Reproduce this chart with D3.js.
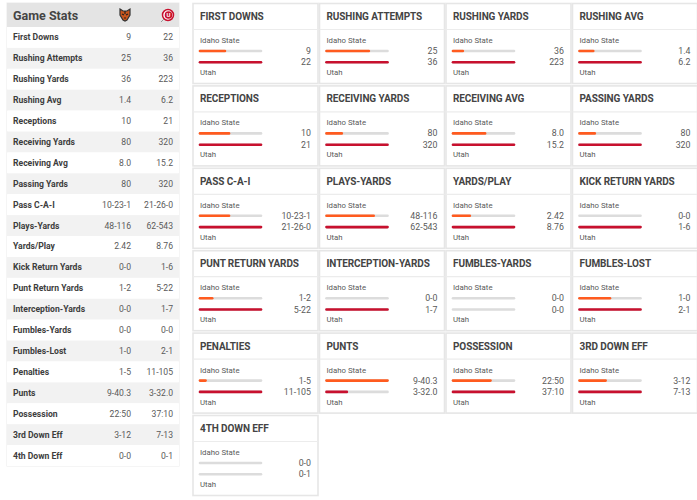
<!DOCTYPE html>
<html><head><meta charset="utf-8">
<script src="https://cdn.jsdelivr.net/npm/d3@7"></script>
<style>
html,body{margin:0;padding:0;background:#fff;}
svg{display:block;font-family:Roboto,"Open Sans",sans-serif;}
</style></head>
<body>
<svg id="chart" width="697" height="500"></svg>
<script>
const statNames = ["First Downs","Rushing Attempts","Rushing Yards","Rushing Avg","Receptions","Receiving Yards","Receiving Avg","Passing Yards","Pass C-A-I","Plays-Yards","Yards/Play","Kick Return Yards","Punt Return Yards","Interception-Yards","Fumbles-Yards","Fumbles-Lost","Penalties","Punts","Possession","3rd Down Eff","4th Down Eff"];
const awayLabels = ["9","25","36","1.4","10","80","8.0","80","10-23-1","48-116","2.42","0-0","1-2","0-0","0-0","1-0","1-5","9-40.3","22:50","3-12","0-0"];
const homeLabels = ["22","36","223","6.2","21","320","15.2","320","21-26-0","62-543","8.76","1-6","5-22","1-7","0-0","2-1","11-105","3-32.0","37:10","7-13","0-1"];
const awayBar = [9,25,36,1.4,10,80,8.0,80,10,48,2.42,0,1,0,0,1,1,9,1370,3,0];
const homeBar = [22,36,223,6.2,21,320,15.2,320,21,62,8.76,1,5,1,0,2,11,3,2230,7,0];
const awayTeam = "Idaho State";
const homeTeam = "Utah";
const tableTitle = "Game Stats";

const ORANGE = "#ff5b1f", RED = "#c8102e", TRACK = "#dcdcdc", TXT = "#3d3d3d", SUB = "#5a5a5a";
const svg = d3.select("#chart");

// ---------- Left table ----------
const tX = 7, tW = 172, headTop = 3, headH = 24;
const rowY = d3.scaleLinear().domain([0, statNames.length]).range([headTop + headH, 466]);
const rowH = rowY(1) - rowY(0);
const tbl = svg.append("g");
tbl.append("rect").attr("x", tX).attr("y", headTop).attr("width", tW).attr("height", 466 - headTop)
  .attr("fill", "#fff").attr("stroke", "#ececec").attr("stroke-width", 1);
tbl.append("rect").attr("x", tX).attr("y", headTop).attr("width", tW).attr("height", headH).attr("fill", "#e4e4e4");
tbl.append("text").attr("x", 13).attr("y", headTop + 16.5).text(tableTitle)
  .attr("font-size", 12.5).attr("font-weight", 700).attr("fill", "#444");
// logos
const lg1 = tbl.append("g").attr("transform", `translate(125,${headTop + 12})`);
lg1.append("path").attr("d", "M-5,-6 L-2,-4 L2,-4 L5,-6 L5,0 L2,5 L0,6 L-2,5 L-5,0 Z").attr("fill", "#c9561c").attr("stroke", "#333").attr("stroke-width", 1.2);
lg1.append("path").attr("d", "M-3,-1 L-1,0 M3,-1 L1,0 M-1,3 L1,3 M0,-4 L0,-1").attr("stroke", "#222").attr("stroke-width", 1.2);
const lg2 = tbl.append("g").attr("transform", `translate(168,${headTop + 12})`);
lg2.append("circle").attr("r", 5.5).attr("fill", "#fff").attr("stroke", RED).attr("stroke-width", 1.5);
lg2.append("circle").attr("cx", 0.5).attr("r", 3.8).attr("fill", RED);
lg2.append("text").attr("x", 0.5).attr("y", 2.3).attr("text-anchor", "middle").attr("font-size", 6).attr("font-weight", 700).attr("fill", "#fff").text("U");
lg2.append("line").attr("x1", -4).attr("y1", 4).attr("x2", -7).attr("y2", 7).attr("stroke", "#999").attr("stroke-width", 1);

const rows = tbl.selectAll("g.row").data(statNames).join("g").attr("class", "row")
  .attr("transform", (d, i) => `translate(0,${rowY(i)})`);
rows.append("rect").attr("x", tX).attr("width", tW).attr("height", rowH)
  .attr("fill", (d, i) => i % 2 === 1 ? "#f2f2f2" : "#fff");
rows.append("text").attr("x", 13).attr("y", rowH / 2 + 3).text(d => d)
  .attr("font-size", 8.6).attr("font-weight", 700).attr("fill", TXT);
rows.append("text").attr("x", 131).attr("y", rowH / 2 + 3).attr("text-anchor", "end").text((d, i) => awayLabels[i])
  .attr("font-size", 8.6).attr("fill", SUB);
rows.append("text").attr("x", 173).attr("y", rowH / 2 + 3).attr("text-anchor", "end").text((d, i) => homeLabels[i])
  .attr("font-size", 8.6).attr("fill", SUB);

// ---------- Cards ----------
const cols = 4;
const colX = d3.scaleLinear().domain([0, 1]).range([193, 319.5]);
const cardRowY = d3.scaleLinear().domain([0, 1]).range([3.5, 85.9]);
const cW = 125, cH = 80, barW = 61;

const cards = svg.selectAll("g.card").data(statNames).join("g").attr("class", "card")
  .attr("transform", (d, i) => `translate(${colX(i % cols)},${cardRowY(Math.floor(i / cols))})`);
cards.append("rect").attr("width", cW).attr("height", cH).attr("fill", "#fff")
  .attr("stroke", "#e6e6e6").attr("stroke-width", 1.6);
cards.append("line").attr("x1", 0).attr("x2", cW).attr("y1", 26).attr("y2", 26).attr("stroke", "#ececec").attr("stroke-width", 1.2);
cards.append("text").attr("x", 7).attr("y", 16.5).text(d => d.toUpperCase())
  .attr("font-size", 10).attr("font-weight", 700).attr("fill", "#444").attr("letter-spacing", -0.1);
cards.append("text").attr("x", 7).attr("y", 39.5).text(awayTeam).attr("font-size", 7.8).attr("fill", SUB);
cards.append("text").attr("x", 7).attr("y", 71.5).text(homeTeam).attr("font-size", 7.8).attr("fill", SUB);

cards.each(function (d, i) {
  const g = d3.select(this);
  const mx = Math.max(awayBar[i], homeBar[i]);
  const x = d3.scaleLinear().domain([0, mx > 0 ? mx : 1]).range([0, barW]);
  [[awayBar[i], awayLabels[i], ORANGE, 47.5], [homeBar[i], homeLabels[i], RED, 58.8]].forEach(([v, lab, col, y]) => {
    g.append("line").attr("x1", 7).attr("x2", 7 + x.range()[1]).attr("y1", y).attr("y2", y)
      .attr("stroke", TRACK).attr("stroke-width", 2.6).attr("stroke-linecap", "round");
    if (v > 0) g.append("line").attr("x1", 7).attr("x2", 7 + x(v)).attr("y1", y).attr("y2", y)
      .attr("stroke", col).attr("stroke-width", 2.6).attr("stroke-linecap", "round");
    g.append("text").attr("x", 118).attr("y", y + 3.1).attr("text-anchor", "end").text(lab)
      .attr("font-size", 8.8).attr("fill", SUB);
  });
});
</script>
</body></html>
